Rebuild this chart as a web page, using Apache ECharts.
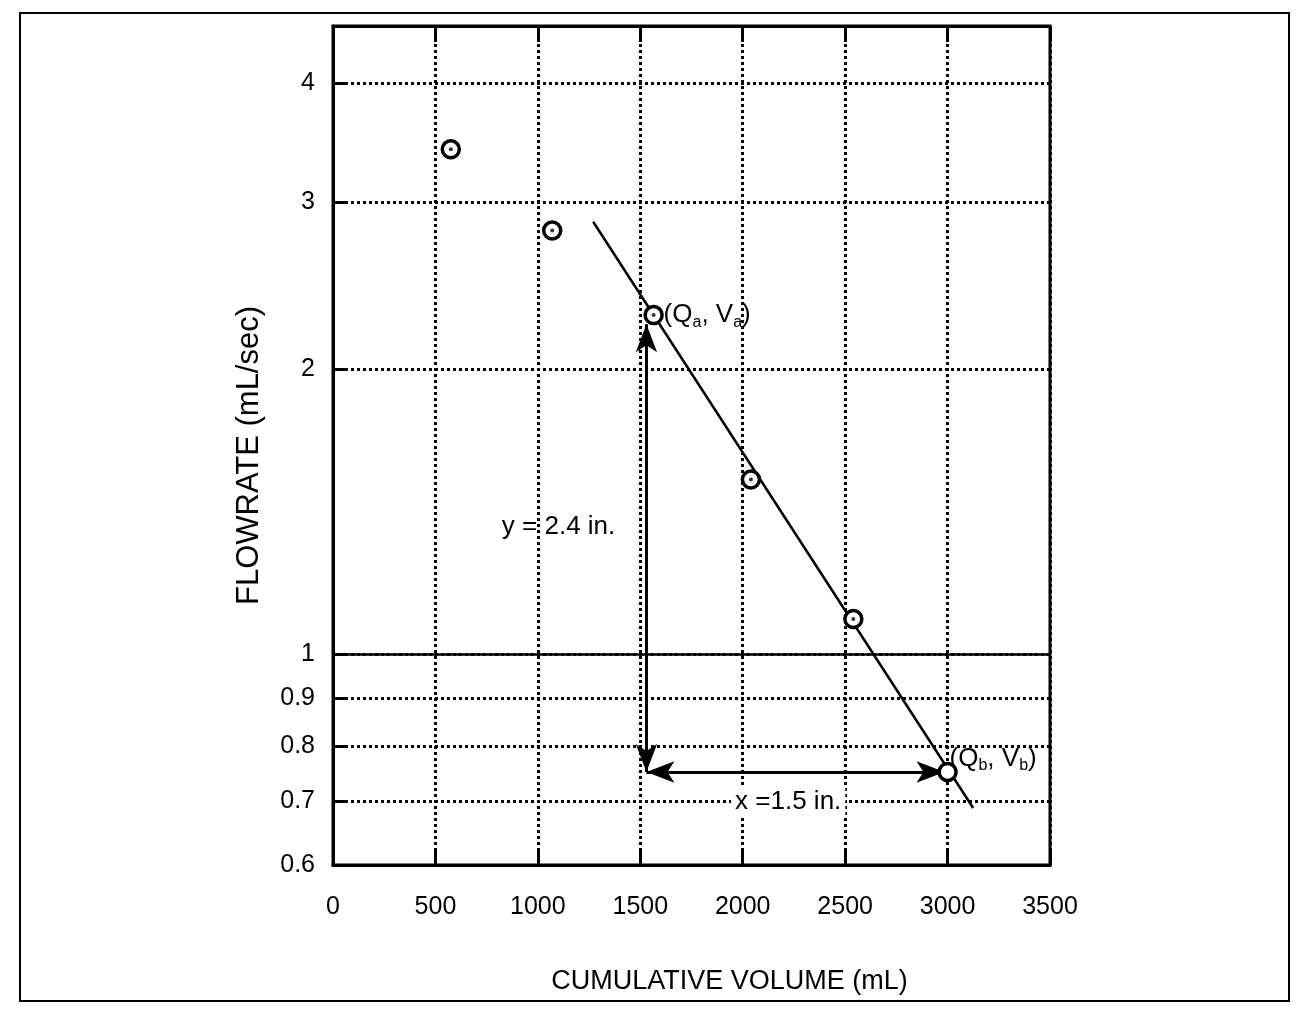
<!DOCTYPE html>
<html>
<head>
<meta charset="utf-8">
<script src="https://cdn.jsdelivr.net/npm/echarts@6/dist/echarts.min.js"></script>
<style>
  html, body { margin: 0; background: #fff; }
  #main { width: 1309px; height: 1010px; }
</style>
</head>
<body>
<div id="main"></div>
<script>
  // measured points (cumulative volume mL, flowrate mL/sec)
  const volume = [575, 1070, 1565, 2040, 2540, 3000]
  const flowrate = [3.41, 2.80, 2.28, 1.53, 1.09, 0.752]
  // straight line drawn through the later points
  const fitVolume = [1270, 3125]
  const fitFlowrate = [2.86, 0.689]
  // tick values
  const yTicks = [0.6, 0.7, 0.8, 0.9, 1, 2, 3, 4]
  // dimension arrows (x = 1.5 in., y = 2.4 in.)
  const arrowVolume = [1530, 2985]
  const arrowFlow = [0.752, 2.23]

  const FONT = 'Liberation Sans, Arial, Helvetica, sans-serif'
  const black = '#000'

  let chart = echarts.init(document.getElementById('main'), null, {renderer: 'canvas'})

  let points = volume.map((v, i) => [v, flowrate[i]])
  let fitLine = fitVolume.map((v, i) => [v, fitFlowrate[i]])

  let subRich = {
    n: {fontSize: 26, fontFamily: FONT, color: black, lineHeight: 30},
    s: {fontSize: 16, fontFamily: FONT, color: black, lineHeight: 30, padding: [14, 0, 0, 0]}
  }

  let dotted = {color: black, width: 3, type: [3, 3]}

  chart.setOption({
    animation: false,
    backgroundColor: '#fff',
    grid: {
      left: 333,
      right: 259,
      top: 26,
      bottom: 145,
      show: true,
      borderColor: black,
      borderWidth: 3
    },
    graphic: [
      {
        type: 'rect',
        shape: {x: 20, y: 13, width: 1269, height: 988},
        style: {fill: 'none', stroke: black, lineWidth: 2}
      }
    ],
    xAxis: [
      {
        type: 'value',
        min: 0,
        max: 3500,
        interval: 500,
        name: 'CUMULATIVE VOLUME (mL)',
        nameLocation: 'middle',
        nameGap: 103,
        nameTextStyle: {fontSize: 27, fontFamily: FONT, color: black, padding: [0, 0, 0, 76]},
        axisLine: {lineStyle: {color: black, width: 3}},
        axisTick: {inside: true, length: 16, lineStyle: {color: black, width: 3}},
        axisLabel: {fontSize: 25, fontFamily: FONT, color: black, margin: 30, formatter: v => String(v)},
        splitLine: {show: true, lineStyle: dotted}
      },
      {
        type: 'value',
        position: 'top',
        min: 0,
        max: 3500,
        interval: 500,
        axisLine: {lineStyle: {color: black, width: 3}},
        axisTick: {inside: true, length: 16, lineStyle: {color: black, width: 3}},
        axisLabel: {show: false},
        splitLine: {show: false}
      }
    ],
    yAxis: {
      type: 'log',
      logBase: 10,
      min: 0.6,
      max: 4.6,
      name: 'FLOWRATE (mL/sec)',
      nameLocation: 'middle',
      nameGap: 68,
      nameRotate: 90,
      nameTextStyle: {fontSize: 31, fontFamily: FONT, color: black, padding: [0, 20, 0, 0]},
      axisLine: {lineStyle: {color: black, width: 3}},
      axisTick: {inside: true, length: 13, customValues: yTicks, lineStyle: {color: black, width: 3}},
      axisLabel: {
        customValues: yTicks,
        fontSize: 25,
        fontFamily: FONT,
        color: black,
        margin: 18,
        formatter: v => String(Number(v.toPrecision(3)))
      },
      splitLine: {show: true, lineStyle: dotted}
    },
    series: [
      {
        // fitted line + solid reference line at 1 mL/sec
        type: 'line',
        data: fitLine,
        symbol: 'none',
        lineStyle: {color: black, width: 2.5},
        silent: true,
        z: 3,
        markLine: {
          silent: true,
          symbol: 'none',
          label: {show: false},
          lineStyle: {color: black, width: 2.5, type: 'solid'},
          data: [{yAxis: 1}]
        }
      },
      {
        // dimension arrows
        type: 'line',
        data: [],
        silent: true,
        markLine: {
          silent: true,
          symbol: ['arrow', 'arrow'],
          symbolSize: [16, 28],
          label: {show: false},
          lineStyle: {color: black, width: 3, type: 'solid'},
          data: [
            [{coord: [arrowVolume[0], arrowFlow[0]]}, {coord: [arrowVolume[0], arrowFlow[1]]}],
            [{coord: [arrowVolume[0], arrowFlow[0]]}, {coord: [arrowVolume[1], arrowFlow[0]]}]
          ]
        }
      },
      {
        type: 'scatter',
        data: points,
        symbol: 'circle',
        symbolSize: 17,
        itemStyle: {color: '#fff', borderColor: black, borderWidth: 3.5, opacity: 1},
        z: 5
      },
      {
        type: 'scatter',
        data: points.slice(0, 5),
        symbol: 'circle',
        symbolSize: 4,
        itemStyle: {color: black},
        z: 6
      },
      {
        // text annotations
        type: 'scatter',
        data: [],
        z: 7,
        markPoint: {
          silent: true,
          symbol: 'circle',
          symbolSize: 0,
          itemStyle: {color: 'rgba(0,0,0,0)'},
          data: [
            {
              coord: [volume[2], flowrate[2]],
              label: {
                show: true, position: 'right', distance: 10,
                formatter: '{n|(Q}{s|a}{n|, V}{s|a}{n|)}', rich: subRich
              }
            },
            {
              coord: [volume[5], flowrate[5]],
              label: {
                show: true, position: 'right', distance: 2, offset: [0, -13],
                formatter: '{n|(Q}{s|b}{n|, V}{s|b}{n|)}', rich: subRich
              }
            },
            {
              coord: [1101, 1.365],
              label: {
                show: true, position: 'inside',
                formatter: 'y = 2.4 in.', fontSize: 26, fontFamily: FONT, color: black
              }
            },
            {
              coord: [2222, 0.70],
              label: {
                show: true, position: 'inside',
                formatter: 'x =1.5 in.', fontSize: 26, fontFamily: FONT, color: black,
                backgroundColor: '#fff', padding: [2, 4]
              }
            }
          ]
        }
      }
    ]
  })

  window.addEventListener('resize', () => chart.resize())
</script>
</body>
</html>
